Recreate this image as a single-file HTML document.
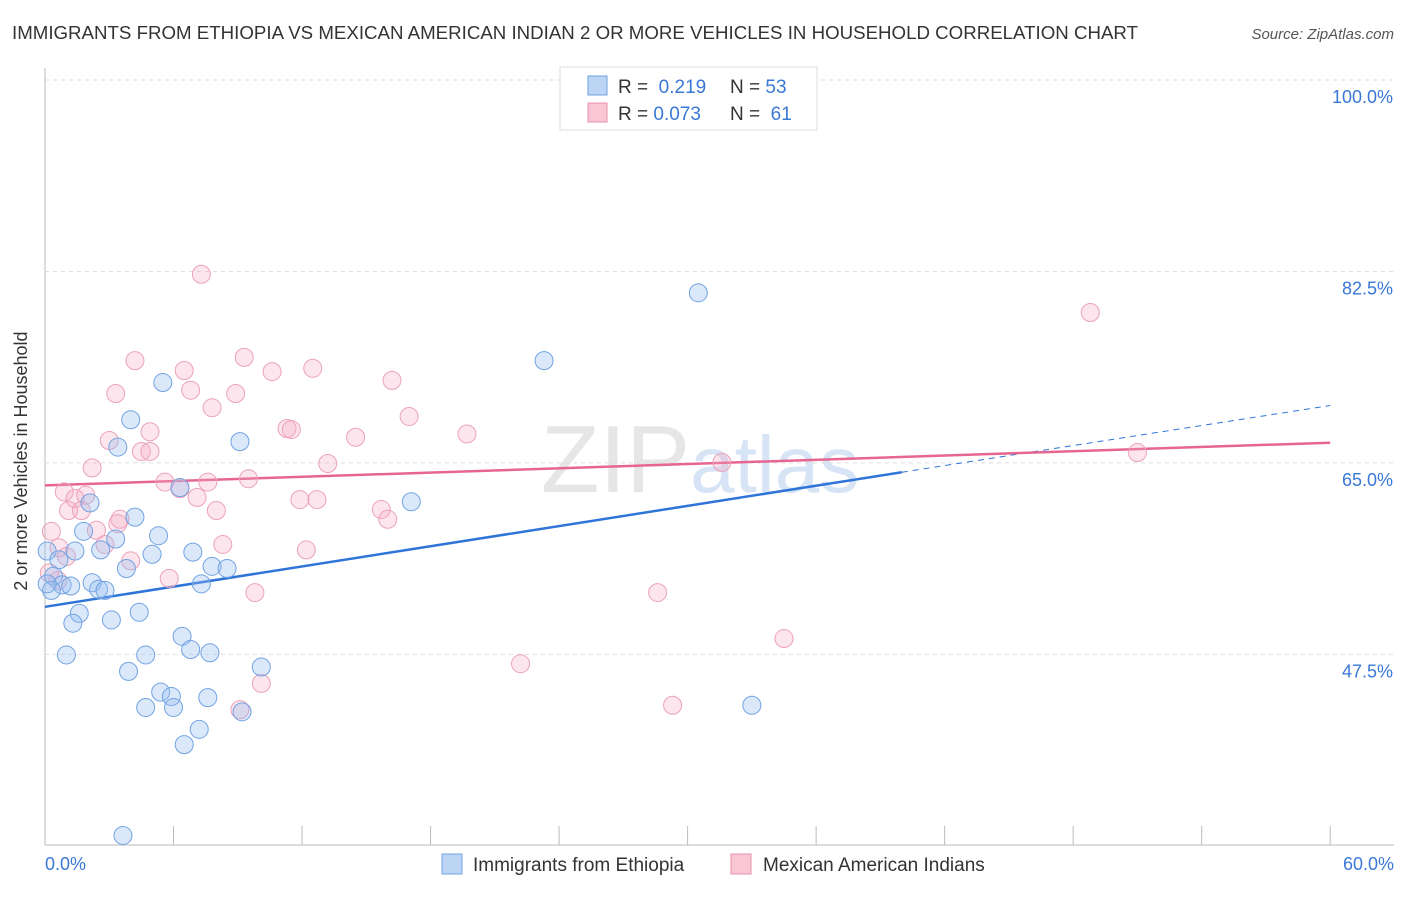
<!DOCTYPE html>
<html><head><meta charset="utf-8"><style>
body{margin:0;background:#fff;font-family:"Liberation Sans",sans-serif;}
svg text{font-family:"Liberation Sans",sans-serif;}
</style></head><body>
<svg id="chart" width="1406" height="892">
<text x="12" y="39" font-size="18" fill="#333" textLength="1126" lengthAdjust="spacingAndGlyphs">IMMIGRANTS FROM ETHIOPIA VS MEXICAN AMERICAN INDIAN 2 OR MORE VEHICLES IN HOUSEHOLD CORRELATION CHART</text>
<text x="1394" y="39" font-size="15" fill="#555" font-style="italic" text-anchor="end">Source: ZipAtlas.com</text>
<text x="700" y="492" font-size="96" fill="#e6e6e6" text-anchor="middle" font-family="Liberation Serif">ZIP<tspan fill="#d6e4f5" font-family="Liberation Sans" font-size="80">atlas</tspan></text>
<line x1="45" y1="68" x2="45" y2="845" stroke="#bbb"/>
<line x1="45" y1="845" x2="1394" y2="845" stroke="#bbb"/>
<g id="grid"></g><g id="ticks"></g><g id="lines"></g><g id="pts"></g>
<text x="22" y="456" font-size="18" fill="#333" text-anchor="middle" transform="rotate(-90 27 456)">2 or more Vehicles in Household</text>
<text x="45" y="870" font-size="18" fill="#3a78d6">0.0%</text>
<text x="1394" y="870" font-size="18" fill="#3a78d6" text-anchor="end">60.0%</text>
<g>
<rect x="560" y="67" width="257" height="63" fill="#fff" stroke="#ddd"/>
<rect x="588" y="76" width="19" height="19" fill="#bcd5f5" stroke="#6fa0e0"/>
<rect x="588" y="103" width="19" height="19" fill="#f8c6d4" stroke="#e890aa"/>
<text x="618" y="93" font-size="19" fill="#333">R = <tspan fill="#3a78d6">&#160;0.219</tspan><tspan x="730">N = </tspan><tspan fill="#3a78d6">53</tspan></text>
<text x="618" y="120" font-size="19" fill="#333">R = <tspan fill="#3a78d6">0.073</tspan><tspan x="730">N = </tspan><tspan fill="#3a78d6">&#160;61</tspan></text>
</g>
<g>
<rect x="442" y="854" width="20" height="20" fill="#bcd5f5" stroke="#6fa0e0"/>
<text x="473" y="871" font-size="19" fill="#333">Immigrants from Ethiopia</text>
<rect x="731" y="854" width="20" height="20" fill="#f8c6d4" stroke="#e890aa"/>
<text x="763" y="871" font-size="19" fill="#333">Mexican American Indians</text>
</g>
</svg>
<script>
const yTicks=[100,82.5,65,47.5];
const yTickLabels=["100.0%","82.5%","65.0%","47.5%"];
const xTicks=[0,6,12,18,24,30,36,42,48,54,60];
const blueX=[3.64,30.5,23.3,5.5,4.0,3.4,9.1,6.3,17.1,2.1,4.2,1.8,3.3,5.3,0.1,1.4,2.6,5.0,6.9,0.65,3.8,7.8,8.5,0.4,0.8,1.2,2.2,2.5,2.8,7.3,1.6,4.4,1.3,3.1,6.4,1.0,4.7,6.8,7.7,10.1,3.9,5.4,5.9,7.6,4.7,6.0,9.2,7.2,6.5,33.0,0.3,0.1];
const blueY=[32.5,82.1,75.9,73.9,70.5,68.0,68.5,64.3,63.0,62.9,61.6,60.3,59.6,59.9,58.5,58.5,58.6,58.2,58.4,57.7,56.9,57.1,56.9,56.2,55.4,55.3,55.6,55.0,54.9,55.5,52.8,52.9,51.9,52.2,50.7,49.0,49.0,49.5,49.2,47.9,47.5,45.6,45.2,45.1,44.2,44.2,43.8,42.2,40.8,44.4,54.9,55.5];
const pinkX=[7.3,4.2,9.3,6.5,3.3,10.6,12.5,16.2,6.8,8.9,7.8,17.0,11.3,11.5,4.9,3.0,4.5,4.9,14.5,19.7,48.8,51.0,2.2,13.2,31.6,5.6,7.6,9.5,0.9,1.4,1.9,6.3,7.1,11.9,12.7,1.1,1.7,8.0,15.7,16.0,3.5,3.4,2.4,0.3,8.3,2.8,12.2,0.65,4.0,5.8,0.6,9.8,28.6,34.5,22.2,10.1,29.3,9.1,0.2,1.0];
const pinkY=[83.8,75.9,76.2,75.0,72.9,74.9,75.2,74.1,73.2,72.9,71.6,70.8,69.7,69.6,69.4,68.6,67.6,67.6,68.9,69.2,80.3,67.5,66.1,66.5,66.6,64.8,64.8,65.1,63.9,63.3,63.6,64.2,63.4,63.2,63.2,62.2,62.2,62.2,62.3,61.4,61.4,61.0,60.4,60.3,59.1,59.1,58.6,58.8,57.6,56.0,55.8,54.7,54.7,50.5,48.2,46.4,44.4,44.0,56.5,58.0];
const blueLine=[53.4,65.7,71.8];const blueLineX=[0,40,60];
const pinkLine=[64.5,68.4];const pinkLineX=[0,60];
const NS='http://www.w3.org/2000/svg';
function xs(v){return 45+v*21.42;}
function ys(v){return 97+(100-v)*10.94;}
function mk(t,a,p){const e=document.createElementNS(NS,t);for(const k in a)e.setAttribute(k,a[k]);p.appendChild(e);return e;}
const grid=document.getElementById('grid'),ticks=document.getElementById('ticks'),lines=document.getElementById('lines'),pts=document.getElementById('pts');
yTicks.forEach((v,i)=>{
 const g=mk('line',{x1:45,x2:1394,y1:ys(v)-17,y2:ys(v)-17,stroke:'#ddd','stroke-dasharray':'4,4'},grid);
 
 
 const t=mk('text',{x:1393,y:ys(v)+6,'font-size':18,fill:'#3a78d6','text-anchor':'end'},grid);
 t.textContent=yTickLabels[i];
 
 
});
xTicks.forEach(v=>{
 const l=mk('line',{x1:xs(v),x2:xs(v),y1:826,y2:845,stroke:'#bbb'},ticks);
 
 
});
function drawPts(X,Y,fill,stroke,name){X.forEach((x,i)=>{
 const c=mk('circle',{cx:xs(x),cy:ys(Y[i]),r:9,fill:fill,stroke:stroke,'stroke-width':1},pts);
 
 
});}
drawPts(pinkX,pinkY,'rgba(245,170,195,0.3)','#eca2b9','mexican-point');
drawPts(blueX,blueY,'rgba(150,190,240,0.35)','#72a3e2','ethiopia-point');
const bl=mk('line',{x1:xs(blueLineX[0]),y1:ys(blueLine[0]),x2:xs(blueLineX[1]),y2:ys(blueLine[1]),stroke:'#2f74d8','stroke-width':2.5},lines);


const bd=mk('line',{x1:xs(blueLineX[1]),y1:ys(blueLine[1]),x2:xs(blueLineX[2]),y2:ys(blueLine[2]),stroke:'#2f74d8','stroke-width':1,'stroke-dasharray':'6,5'},lines);


const pl=mk('line',{x1:xs(pinkLineX[0]),y1:ys(pinkLine[0]),x2:xs(pinkLineX[1]),y2:ys(pinkLine[1]),stroke:'#e66591','stroke-width':2.5},lines);


</script>
</body></html>
